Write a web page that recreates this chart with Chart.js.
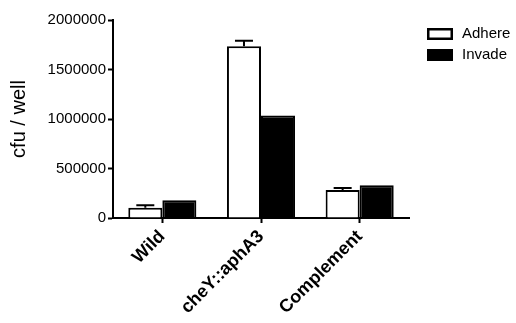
<!DOCTYPE html>
<html>
<head>
<meta charset="utf-8">
<script src="https://cdn.jsdelivr.net/npm/chart.js@4/dist/chart.umd.min.js"></script>
<style>
  html, body { margin: 0; padding: 0; background: #fff; }
  #wrap { width: 516px; height: 323px; }
</style>
</head>
<body>
<div id="wrap"><canvas id="graf" width="516" height="323"></canvas></div>
<script>
"use strict";

const stammer      = ["Wild", "cheY::aphA3", "Complement"];
const adhere       = [103000, 1735000, 282000];
const adhereFejl   = [25000, 55000, 20000];
const invade       = [180000, 1035000, 332000];
const yTicks       = [0, 500000, 1000000, 1500000, 2000000];

const font = "'Liberation Sans', Arial, Helvetica, sans-serif";

// fejlstreger (kun opad) tegnet via skalaerne
const fejlPlugin = {
  id: "fejl",
  afterDatasetsDraw(chart) {
    const ctx = chart.ctx;
    const y = chart.scales.y;
    const meta = chart.getDatasetMeta(0);
    ctx.save();
    ctx.strokeStyle = "#000";
    ctx.lineWidth = 2;
    meta.data.forEach((bar, i) => {
      const top = y.getPixelForValue(adhere[i] + adhereFejl[i]);
      ctx.beginPath();
      ctx.moveTo(bar.x, bar.y);
      ctx.lineTo(bar.x, top);
      ctx.moveTo(bar.x - 9, top);
      ctx.lineTo(bar.x + 9, top);
      ctx.stroke();
    });
    ctx.restore();
  }
};

// forklaring oppe til højre
const forklaringPlugin = {
  id: "forklaring",
  afterDraw(chart) {
    const ctx = chart.ctx;
    ctx.save();
    ctx.font = "15px " + font;
    ctx.textBaseline = "middle";
    chart.data.datasets.forEach((ds, i) => {
      const top = 28 + i * 21;
      ctx.fillStyle = ds.backgroundColor;
      ctx.fillRect(427, top, 26, 12);
      ctx.strokeStyle = "#000";
      ctx.lineWidth = 2.5;
      ctx.strokeRect(428.25, top + 1.25, 23.5, 9.5);
      ctx.fillStyle = "#000";
      ctx.fillText(ds.label, 462, top + 6);
    });
    ctx.restore();
  }
};

new Chart(document.getElementById("graf").getContext("2d"), {
  type: "bar",
  data: {
    labels: stammer,
    datasets: [
      { label: "Adhere", data: adhere, backgroundColor: "#fff", borderColor: "#000", borderWidth: 2 },
      { label: "Invade", data: invade, backgroundColor: "#000", borderColor: "#000", borderWidth: 2 }
    ]
  },
  options: {
    responsive: false,
    animation: false,
    categoryPercentage: 0.69,
    barPercentage: 1.0,
    layout: { padding: { top: 20, right: 107, left: 0, bottom: 0 } },
    plugins: { legend: { display: false }, tooltip: { enabled: false } },
    scales: {
      x: {
        afterFit: s => { s.height = 105; },
        grid: { offset: false, drawOnChartArea: false, drawTicks: true, tickLength: 5, tickColor: "#000", tickWidth: 2 },
        border: { color: "#000", width: 2 },
        ticks: {
          color: "#000",
          minRotation: 45,
          maxRotation: 45,
          padding: 3,
          font: { family: font, size: 18, weight: "bold" }
        }
      },
      y: {
        min: 0,
        max: 2000000,
        afterFit: s => { s.width = 113; },
        afterBuildTicks: s => { s.ticks = yTicks.map(v => ({ value: v })); },
        grid: { drawOnChartArea: false, drawTicks: true, tickLength: 5, tickColor: "#000", tickWidth: 2 },
        border: { color: "#000", width: 2 },
        ticks: {
          color: "#000",
          padding: 2,
          font: { family: font, size: 15 },
          callback: v => String(v)
        },
        title: {
          display: true,
          text: "cfu / well",
          color: "#000",
          padding: { top: 7, bottom: 4 },
          font: { family: font, size: 20 }
        }
      }
    }
  },
  plugins: [fejlPlugin, forklaringPlugin]
});
</script>
</body>
</html>
